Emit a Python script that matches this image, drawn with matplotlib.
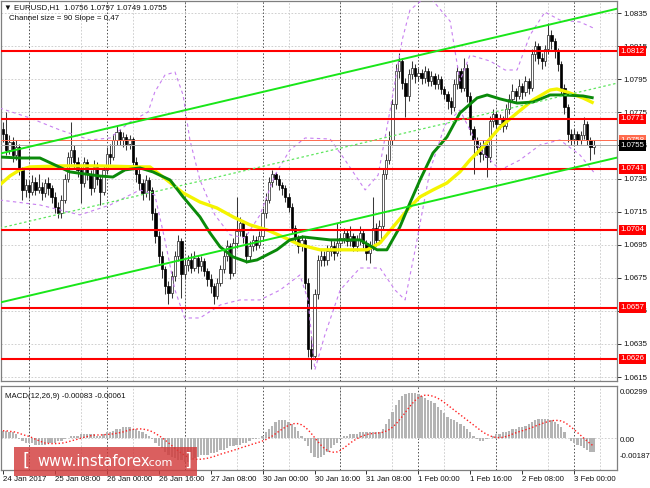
import numpy as np
import matplotlib
import matplotlib.pyplot as plt
from matplotlib.patches import Rectangle

matplotlib.use('Agg')
plt.rcParams['font.family'] = ['Liberation Sans', 'DejaVu Sans']

W, H = 650, 488

# ---- candles (EURUSD H1), bar 0 = 24 Jan 16:00 ----
first_open = 1.0765
closes = [
    1.0762, 1.0752, 1.0757, 1.0749, 1.0754, 1.0740, 1.0728, 1.0731, 1.0727, 1.0733,
    1.0728, 1.0730, 1.0726, 1.0732, 1.0729, 1.0724, 1.0718, 1.0714, 1.0722, 1.0735,
    1.0748, 1.0752, 1.0745, 1.0740, 1.0732, 1.0745, 1.0738, 1.0729, 1.0742, 1.0735,
    1.0727, 1.0740, 1.0750, 1.0748, 1.0758, 1.0763, 1.0758, 1.0760, 1.0756, 1.0759,
    1.0745, 1.0738, 1.0732, 1.0726, 1.0734, 1.0728, 1.0714, 1.0700, 1.0688, 1.0680,
    1.0670, 1.0666, 1.0676, 1.0688, 1.0697, 1.0677, 1.0683, 1.0686, 1.0681, 1.0687,
    1.0682, 1.0685, 1.0679, 1.0674, 1.0670, 1.0664, 1.0672, 1.0680, 1.0688, 1.0694,
    1.0678, 1.0696, 1.0703, 1.0708, 1.0700, 1.0688, 1.0694, 1.0698, 1.0695, 1.0700,
    1.0714, 1.0722, 1.0733, 1.0738, 1.0735, 1.0731, 1.0729, 1.0724, 1.0718, 1.0705,
    1.0699, 1.0694, 1.0698, 1.0672, 1.0632, 1.0628, 1.0665, 1.0686, 1.0688, 1.0686,
    1.0691, 1.0694, 1.0690, 1.0696, 1.0699, 1.0702, 1.0697, 1.0700, 1.0694, 1.0698,
    1.0702, 1.0696, 1.0690, 1.0694, 1.0705, 1.0698, 1.0706, 1.0738, 1.0746, 1.0758,
    1.0780, 1.0800, 1.0806, 1.0793, 1.0785, 1.0798, 1.0802, 1.0797, 1.0799, 1.0796,
    1.0800, 1.0794, 1.0797, 1.0792, 1.0795, 1.0789, 1.0786, 1.0782, 1.0778, 1.0792,
    1.0800, 1.0790, 1.0802, 1.0785, 1.0765, 1.0758, 1.0754, 1.0750, 1.0755, 1.0748,
    1.0770, 1.0774, 1.0768, 1.0771, 1.0767, 1.0777, 1.0783, 1.0788, 1.0785, 1.0791,
    1.0787, 1.0794, 1.0790, 1.0810, 1.0815, 1.0808, 1.0806, 1.0813, 1.0822, 1.0818,
    1.0812, 1.0804, 1.0790, 1.0778, 1.0762, 1.0759, 1.0762, 1.0758, 1.0761, 1.0768,
    1.0758, 1.0754, 1.0755,
]
highs = [
    1.0769, 1.0775, 1.0761, 1.0760, 1.0758, 1.0756, 1.0742, 1.0735, 1.0734, 1.0737,
    1.0736, 1.0738, 1.0733, 1.0735, 1.0736, 1.0731, 1.0727, 1.0721, 1.0725, 1.0738,
    1.0751, 1.0769, 1.0755, 1.0748, 1.0743, 1.0748, 1.0747, 1.0740, 1.0746, 1.0745,
    1.0737, 1.0743, 1.0754, 1.0756, 1.0762, 1.0767, 1.0765, 1.0763, 1.0762, 1.0761,
    1.0760, 1.0748, 1.0741, 1.0735, 1.0737, 1.0736, 1.0730, 1.0717, 1.0703, 1.0691,
    1.0682, 1.0673, 1.0679, 1.0691, 1.0701, 1.0699, 1.0687, 1.0689, 1.0690, 1.0691,
    1.0689, 1.0688, 1.0687, 1.0681, 1.0677, 1.0672, 1.0675, 1.0683, 1.0691, 1.0698,
    1.0696, 1.0699, 1.0724, 1.0712, 1.0710, 1.0702, 1.0697, 1.0701, 1.0700, 1.0703,
    1.0717, 1.0726, 1.0736, 1.0740, 1.0739, 1.0737, 1.0733, 1.0731, 1.0726, 1.0720,
    1.0707, 1.0701, 1.0701, 1.0700, 1.0675, 1.0640, 1.0668, 1.0689, 1.0692, 1.0691,
    1.0695, 1.0698, 1.0697, 1.0708, 1.0702, 1.0705, 1.0704, 1.0706, 1.0702, 1.0701,
    1.0706, 1.0704, 1.0698, 1.0697, 1.0724, 1.0708, 1.0710, 1.0741, 1.0750, 1.0764,
    1.0783, 1.0804, 1.0811, 1.0808, 1.0796, 1.0801, 1.0806, 1.0804, 1.0802, 1.0801,
    1.0803, 1.0802, 1.0800, 1.0799, 1.0798, 1.0797, 1.0791, 1.0788, 1.0784, 1.0795,
    1.0803, 1.0802, 1.0808, 1.0804, 1.0787, 1.0767, 1.0760, 1.0757, 1.0758, 1.0757,
    1.0773, 1.0777, 1.0776, 1.0774, 1.0773, 1.0780, 1.0786, 1.0792, 1.0790, 1.0795,
    1.0793, 1.0797, 1.0796, 1.0813, 1.0818, 1.0817, 1.0811, 1.0816, 1.0829, 1.0825,
    1.0820, 1.0814, 1.0806, 1.0792, 1.0780, 1.0765, 1.0765, 1.0764, 1.0764, 1.0772,
    1.0770, 1.0760, 1.0758,
]
lows = [
    1.0757, 1.0749, 1.0750, 1.0745, 1.0746, 1.0737, 1.0722, 1.0724, 1.0723, 1.0725,
    1.0725, 1.0726, 1.0722, 1.0724, 1.0725, 1.0720, 1.0714, 1.0711, 1.0711, 1.0720,
    1.0733, 1.0744, 1.0741, 1.0736, 1.0720, 1.0730, 1.0734, 1.0725, 1.0727, 1.0731,
    1.0719, 1.0725, 1.0738, 1.0744, 1.0746, 1.0755, 1.0755, 1.0754, 1.0752, 1.0753,
    1.0742, 1.0733, 1.0728, 1.0722, 1.0724, 1.0722, 1.0710, 1.0696, 1.0684, 1.0675,
    1.0665, 1.0659, 1.0663, 1.0673, 1.0685, 1.0663, 1.0674, 1.0679, 1.0678, 1.0679,
    1.0678, 1.0679, 1.0676, 1.0670, 1.0666, 1.0659, 1.0662, 1.0670, 1.0678, 1.0685,
    1.0674, 1.0676, 1.0693, 1.0700, 1.0696, 1.0684, 1.0685, 1.0691, 1.0692, 1.0693,
    1.0698, 1.0711, 1.0720, 1.0730, 1.0731, 1.0728, 1.0725, 1.0721, 1.0715, 1.0702,
    1.0696, 1.0690, 1.0691, 1.0668, 1.0627, 1.0620, 1.0625, 1.0662, 1.0682, 1.0682,
    1.0683, 1.0688, 1.0686, 1.0688, 1.0693, 1.0696, 1.0694, 1.0694, 1.0691, 1.0691,
    1.0695, 1.0693, 1.0686, 1.0684, 1.0692, 1.0694, 1.0696, 1.0704, 1.0735, 1.0744,
    1.0755, 1.0777, 1.0796, 1.0789, 1.0772, 1.0782, 1.0795, 1.0793, 1.0794, 1.0792,
    1.0793, 1.0791, 1.0791, 1.0789, 1.0789, 1.0786, 1.0783, 1.0777, 1.0774, 1.0776,
    1.0789, 1.0787, 1.0788, 1.0781, 1.0761, 1.0738, 1.0749, 1.0745, 1.0746, 1.0736,
    1.0745, 1.0766, 1.0764, 1.0765, 1.0763, 1.0765, 1.0774, 1.0781, 1.0781, 1.0783,
    1.0783, 1.0785, 1.0786, 1.0788, 1.0806, 1.0804, 1.0801, 1.0803, 1.0810, 1.0813,
    1.0808, 1.0800, 1.0786, 1.0774, 1.0757, 1.0755, 1.0756, 1.0755, 1.0756, 1.0759,
    1.0755, 1.0746, 1.0750,
]

# ---- indicator traces: (bar, price) ----
ma_green_x = [-1, 5.2, 11.4, 16, 20.6, 29.9, 33.9, 37.6, 42.2, 46.2, 51.5, 55.5, 60.7,
              63.8, 66.9, 70.9, 75.2, 78.3, 84.4, 88.4, 92.4, 100.8, 110, 115.3, 118.3,
              122.3, 125.4, 128.5, 132.5, 136.8, 140.8, 146.1, 149.2, 153.2, 158.4,
              163.3, 168.6, 172.6, 178.7, 182]
ma_green_y = [1.07480, 1.07474, 1.07474, 1.07432, 1.07390, 1.07365, 1.07359, 1.07402,
              1.07414, 1.07390, 1.07341, 1.07239, 1.07118, 1.07021, 1.06937, 1.06876,
              1.06846, 1.06858, 1.06919, 1.06979, 1.06997, 1.06979, 1.06979, 1.06919,
              1.06919, 1.07057, 1.07202, 1.07341, 1.07504, 1.07601, 1.07746, 1.07837,
              1.07855, 1.07831, 1.07806, 1.07812, 1.07855, 1.07855, 1.07849, 1.07837]
ma_yellow_x = [-1, 2.2, 5.2, 8.3, 17.6, 29.9, 42.2, 45.3, 50.5, 55.5, 60.7, 65.9, 70.9,
               76.1, 81.4, 86.3, 91.5, 97.7, 112.2, 116.2, 120.2, 125.4, 128.5, 132.5,
               136.8, 140.8, 143.9, 147.9, 153.2, 158.4, 163.3, 168.6, 170.7, 173.8,
               178.7, 182]
ma_yellow_y = [1.07311, 1.07366, 1.07402, 1.07420, 1.07426, 1.07426, 1.07420, 1.07420,
               1.07341, 1.07263, 1.07208, 1.07172, 1.07118, 1.07070, 1.07039, 1.06997,
               1.06949, 1.06919, 1.06919, 1.06961, 1.07057, 1.07178, 1.07239, 1.07281,
               1.07323, 1.07390, 1.07462, 1.07541, 1.07661, 1.07746, 1.07825, 1.07885,
               1.07891, 1.07873, 1.07837, 1.07806]
band_up_x = [-1, 8.3, 17.6, 26.8, 33, 39.1, 44.7, 46.8, 49.9, 53, 55.5, 57.6, 60.7,
             65.3, 70, 74.6, 79.2, 83.8, 88.4, 93.1, 100.8, 105.4, 111.6, 115.6, 119.3,
             123, 125.4, 131, 137.8, 140.8, 143.9, 150.1, 154.7, 158.4, 162.4, 167,
             171.6, 177.8, 182]
band_up_y = [1.07776, 1.07716, 1.07643, 1.07583, 1.07595, 1.07691, 1.07752, 1.07873,
             1.07975, 1.07994, 1.07855, 1.07583, 1.07341, 1.07130, 1.07009, 1.06991,
             1.07130, 1.07371, 1.07522, 1.07595, 1.07589, 1.07462, 1.07281, 1.07371,
             1.07764, 1.08187, 1.08368, 1.08460, 1.08300, 1.07940, 1.08096, 1.08060,
             1.08006, 1.08006, 1.08217, 1.08356, 1.08308, 1.08296, 1.08259]
band_lo_x = [-1, 11.4, 23.7, 33, 42.2, 46.8, 49.9, 53, 56, 60.7, 67, 73, 79.2, 85.4,
             91.5, 94, 96.1, 99.2, 103.9, 110, 116.2, 120.8, 123.9, 127, 131.6, 136.2,
             140.8, 147, 153.2, 159.3, 165.5, 171.6, 177.8, 182]
band_lo_y = [1.07220, 1.07190, 1.07130, 1.07190, 1.07281, 1.07250, 1.06979, 1.06676,
             1.06507, 1.06507, 1.06586, 1.06616, 1.06616, 1.06676, 1.06767, 1.06616,
             1.06193, 1.06405, 1.06676, 1.06809, 1.06809, 1.06676, 1.06616, 1.06918,
             1.07401, 1.07673, 1.07764, 1.07522, 1.07401, 1.07462, 1.07553, 1.07583,
             1.07492, 1.07389]

# channel (two anchor bars)
chan_x = [-1, 190]
chan_upper = [1.0750, 1.0838]
chan_lower = [1.0660, 1.0748]
chan_mid = [1.0705, 1.0793]

levels = [1.0812, 1.0771, 1.0741, 1.0704, 1.0657, 1.0626]
ask_price = 1.0758
bid_price = 1.0755

# MACD histogram in units of 0.0001
macd_main = [
    4, 4, 3, 3, 2,
    -1, -2, -3, -3, -3, -4, -4, -4, -4, -3, -3, -3, -2, -2, -1,
    0, 1, 1, 1, 2, 2, 2, 2, 2, 1, 1, 2, 3, 3,
    4, 5, 5, 6, 6, 6, 5, 5, 4, 3,
    2, 1, -1, -3, -5,
    -6, -8, -10, -11, -12, -13, -13, -14, -14, -13, -12, -11,
    -10, -10, -10, -9, -9, -8, -7, -7, -6, -5, -5, -4, -4, -3, -3, -2, -1, -1, 0,
    1, 3, 5, 7, 9, 10, 10, 10, 9, 8, 6, 4,
    1, -2, -5, -9, -11, -12, -11, -10, -8, -6, -4, -3, -1,
    1, 1, 2, 2, 2, 3, 3, 3, 3, 3, 3, 3,
    5, 8, 11, 15, 19, 22, 24, 25, 26, 26, 26, 25, 24, 23, 22, 21, 20, 18, 16, 14,
    12, 11, 10, 9, 8, 7, 5, 3, 1,
    -1, -2, -2, -1,
    0, 1, 2, 2, 3, 3, 4, 5, 5, 6, 6, 7, 8, 9, 10, 11, 11, 11, 11, 10, 9, 8, 6, 3,
    0, -2, -3, -4, -5, -6, -7, -8, -8,
]

date_ticks = [0, 16, 32, 48, 64, 80, 96, 112, 128, 144, 160, 176]
date_labels = ["24 Jan 2017", "25 Jan 08:00", "26 Jan 00:00", "26 Jan 16:00",
               "27 Jan 08:00", "30 Jan 00:00", "30 Jan 16:00", "31 Jan 08:00",
               "1 Feb 00:00", "1 Feb 16:00", "2 Feb 08:00", "3 Feb 00:00"]
grid_bars = [8, 24, 40, 56, 72, 88, 104, 120, 136, 152, 168, 184]
day_bars = [8, 32, 56, 80, 104, 128, 152, 176]
price_ticks = [1.0835, 1.0815, 1.0795, 1.0775, 1.0755, 1.0735, 1.0715, 1.0695,
               1.0675, 1.0655, 1.0635, 1.0615]

closes = np.array(closes)
opens = np.concatenate([[first_open], closes[:-1]])
highs = np.array(highs)
lows = np.array(lows)
idx = np.arange(len(closes))
macd = np.array(macd_main) * 1e-4
signal = np.convolve(macd, np.ones(9) / 9, mode='full')[:len(macd)]
signal[:8] = [macd[:k + 1].mean() for k in range(8)]

FS = 5.7
TXT = '#111111'
fig = plt.figure(figsize=(W / 100, H / 100), dpi=100)


def px_axes(x0, y0, x1, y1):
    return fig.add_axes([x0 / W, 1 - y1 / H, (x1 - x0) / W, (y1 - y0) / H])


def px_text(x, y, s, **kw):
    return fig.text(x / W, 1 - y / H, s, va='center', **kw)


ax = px_axes(1, 1, 617, 381)
ax2 = px_axes(1, 386, 617, 470)

for a in (ax, ax2):
    a.set_xlim(-0.6, 189.2)
    for s in a.spines.values():
        s.set_color('#7f7f7f')
        s.set_linewidth(0.9)
    for b in grid_bars:
        a.axvline(b, color='#c8c8c8', lw=0.6, ls=(0, (2, 2)), zorder=0)
    for b in day_bars:
        a.axvline(b, color='#505050', lw=0.7, ls=(0, (1.5, 2)), zorder=0)

# ---- main price panel ----
ax.set_ylim(1.06126, 1.08423)
for p in price_ticks:
    ax.axhline(p, color='#c8c8c8', lw=0.6, ls=(0, (2, 2)), zorder=0)

up = closes >= opens
ax.vlines(idx, lows, highs, color='#383838', lw=0.75, zorder=2)
body = np.where(np.abs(closes - opens) < 0.00004, 0.00004, closes - opens)
ax.bar(idx[up], body[up], bottom=opens[up], width=0.7, color='white',
       edgecolor='#202020', linewidth=0.5, zorder=2)
ax.bar(idx[~up], body[~up], bottom=opens[~up], width=0.7, color='black',
       edgecolor='black', linewidth=0.5, zorder=2)

ax.plot(band_up_x, band_up_y, color='#c77ff0', lw=0.8, ls=(0, (3, 3)), zorder=3)
ax.plot(band_lo_x, band_lo_y, color='#c77ff0', lw=0.8, ls=(0, (3, 3)), zorder=3)
ax.plot(ma_yellow_x, ma_yellow_y, color='#f4f400', lw=2.4, zorder=3,
        solid_capstyle='butt')
ax.plot(ma_green_x, ma_green_y, color='#0a8a0a', lw=2.1, zorder=3,
        solid_capstyle='butt')

ax.axhline(ask_price, color='#ff6a4d', lw=0.7, zorder=4)
ax.axhline(bid_price, color='#a8a8a8', lw=0.7, zorder=4)
for lv in levels:
    ax.axhline(lv, color='#ff0000', lw=1.5, zorder=4)

ax.plot(chan_x, chan_upper, color='#19e619', lw=1.4, zorder=5)
ax.plot(chan_x, chan_lower, color='#19e619', lw=1.4, zorder=5)
ax.plot(chan_x, chan_mid, color='#5fe65f', lw=0.9, ls=(0, (2, 2)), zorder=5)

ax.yaxis.tick_right()
ax.set_yticks(price_ticks)
ax.set_yticklabels([f"{p:.4f}" for p in price_ticks])
ax.tick_params(axis='y', labelsize=FS, length=3, width=0.6, pad=1.5,
               colors=TXT)
ax.set_xticks([])

label_kw = dict(xycoords=('axes fraction', 'data'), fontsize=FS, va='center',
                ha='left', annotation_clip=False, zorder=10)
box = 'square,pad=0.2'
ax.annotate(f"{ask_price:.4f}", (1.0055, ask_price), color='white',
            bbox=dict(boxstyle=box, fc='#ff6a4d', ec='none'), **label_kw)
ax.annotate(f"{bid_price:.4f}", (1.0055, bid_price), color='white',
            bbox=dict(boxstyle=box, fc='black', ec='none'), **label_kw)
for lv in levels:
    ax.annotate(f"{lv:.4f}", (1.0055, lv), color='white',
                bbox=dict(boxstyle=box, fc='#ff0000', ec='none'), **label_kw)

px_text(4, 8, "\u25bc EURUSD,H1  1.0756 1.0797 1.0749 1.0755", fontsize=FS,
        color=TXT)
px_text(9, 19, "Channel size = 90 Slope = 0,47", fontsize=FS, color=TXT)

# ---- MACD panel ----
ax2.set_ylim(-0.00187, 0.00299)
ax2.axhline(0, color='#c8c8c8', lw=0.6, ls=(0, (2, 2)), zorder=0)
ax2.bar(idx, macd, width=0.7, color='#b4b4b4', zorder=2)
ax2.plot(idx, signal, color='#ff2020', lw=1.0, ls=(0, (1, 1.6)), zorder=3)
ax2.set_yticks([])
ax2.set_xticks(date_ticks)
ax2.set_xticklabels(date_labels, ha='left')
ax2.tick_params(axis='x', labelsize=FS, length=3, width=0.6, pad=1.5,
                colors=TXT)

px_text(5, 397, "MACD(12,26,9) -0.00083 -0.00061", fontsize=FS, color=TXT)
px_text(620, 393, "0.00299", fontsize=FS, color=TXT)
px_text(620, 440, "0.00", fontsize=FS, color=TXT)
px_text(620, 456, "-0.00187", fontsize=FS, color=TXT)

# ---- watermark ----
fig.patches.append(Rectangle((14 / W, 1 - 476 / H), 183 / W, 29 / H,
                             transform=fig.transFigure, facecolor='#d23c3c',
                             alpha=0.82, edgecolor='none', zorder=20))
px_text(23, 461, "[", fontsize=13, color='white', zorder=21,
        family='DejaVu Sans')
px_text(37, 461, "www.instaforex", fontsize=10.5, color='white', zorder=21,
        family='DejaVu Sans')
px_text(146, 463, ".com", fontsize=8, color='white', zorder=21,
        family='DejaVu Sans')
px_text(184, 461, "]", fontsize=13, color='white', zorder=21,
        family='DejaVu Sans')

fig.savefig('out.png', dpi=100)
